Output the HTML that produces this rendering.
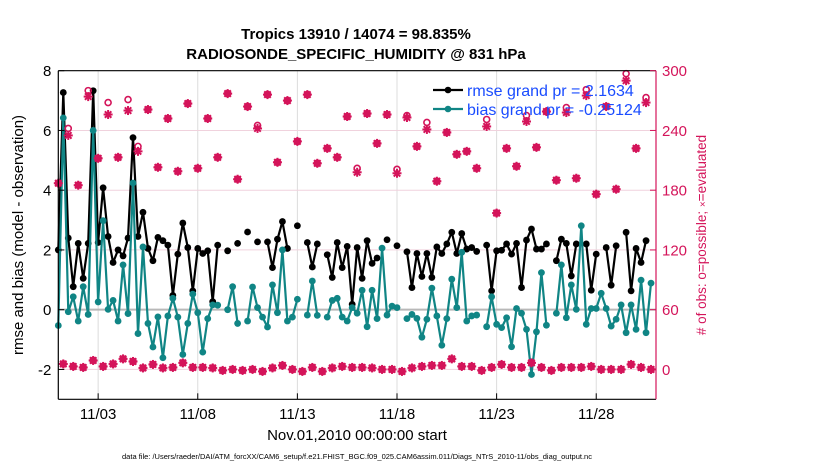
<!DOCTYPE html>
<html><head><meta charset="utf-8"><style>
html,body{margin:0;padding:0;background:#fff;}
svg{display:block;font-family:"Liberation Sans",Arial,sans-serif;}
</style></head><body>
<svg id="chart" width="830" height="470" viewBox="0 0 830 470" xmlns="http://www.w3.org/2000/svg">
<text x="356" y="39" text-anchor="middle" font-size="15" font-weight="bold">Tropics 13910 / 14074 = 98.835%</text>
<text x="356" y="59" text-anchor="middle" font-size="15" font-weight="bold">RADIOSONDE_SPECIFIC_HUMIDITY @ 831 hPa</text>
<g id="grid"></g>
<g id="series"></g>
<g id="axes"></g>
<text transform="translate(23,235) rotate(-90)" text-anchor="middle" font-size="15">rmse and bias (model - observation)</text>
<text transform="translate(706,235) rotate(-90)" text-anchor="middle" font-size="13.5" fill="#d4145a">#  of obs: o=possible; <tspan font-size="10">×</tspan>=evaluated</text>
<text x="357" y="440" text-anchor="middle" font-size="15">Nov.01,2010 00:00:00 start</text>
<text x="357" y="459" text-anchor="middle" font-size="7.5">data file: /Users/raeder/DAI/ATM_forcXX/CAM6_setup/f.e21.FHIST_BGC.f09_025.CAM6assim.011/Diags_NTrS_2010-11/obs_diag_output.nc</text>
</svg>
<script>
const rmse=[2.0,7.27,2.4,0.77,2.22,1.05,2.22,7.33,2.25,4.08,2.45,1.58,2.0,1.8,2.4,5.76,2.45,3.26,2.05,1.64,2.42,2.31,2.16,0.48,1.86,2.9,2.08,0.63,2.05,1.88,1.97,0.27,2.16,null,1.97,null,2.22,null,2.6,
null,2.27,null,2.27,1.41,2.36,2.95,2.05,null,2.81,null,2.25,1.43,2.2,null,1.84,1.08,2.25,1.41,2.12,0.18,2.08,1.05,2.31,1.55,1.73,null,2.34,null,2.14,null,1.94,0.74,1.88,1.11,1.88,1.08,2.1,1.88,2.2,
2.59,1.88,2.55,2.03,2.08,1.95,null,2.16,0.63,1.97,1.99,2.2,1.86,2.22,0.74,2.33,2.7,2.03,2.03,2.2,null,1.64,2.36,2.22,1.13,2.2,null,2.2,0.65,1.86,null,2.08,0.82,2.14,null,2.59,0.63,2.05,1.58,2.31,null];
const bias=[-0.53,6.42,-0.07,0.43,-0.38,0.77,-0.16,6.0,0.26,2.98,0.01,0.31,-0.38,1.5,-0.13,4.24,-0.8,2.1,-0.46,-1.25,-0.24,-1.61,-0.21,0.38,-0.25,-1.5,-0.46,0.52,-0.1,-1.42,-0.3,0.16,0.15,null,0.0,0.77,-0.46,null,-0.38,
0.76,0.07,-0.25,-0.58,0.83,-0.1,2.0,-0.38,-0.25,0.35,null,-0.18,0.96,-0.19,null,-0.25,0.31,0.38,-0.25,-0.38,0.07,-0.12,0.65,-0.57,0.65,-0.3,2.06,-0.18,0.12,0.07,null,-0.3,-0.16,-0.29,-0.92,-0.32,0.72,-0.21,-1.19,-0.3,
1.02,0.07,1.92,-0.38,-0.21,-0.18,null,-0.57,0.43,-0.49,-0.6,-0.27,-1.24,0.04,-0.12,-0.66,-2.17,-0.74,1.24,-0.52,null,-0.12,1.5,-0.27,0.83,0.01,2.81,-0.49,0.04,0.04,0.55,0.04,-0.55,-0.32,0.16,-0.77,0.16,-0.66,0.99,-0.77,0.89];
// counts at even steps (00Z/12Z) and odd steps (06Z/18Z)
const usedEven=[187,235,185,274,212,256,213,260,219,261,203,252,199,267,202,252,213,277,191,264,
242,276,208,270,229,276,207,222,213,254,198,257,227,256,197,253,224,241,189,238,
216,219,202,244,157,222,204,249,223,259,190,258,192,275,176,264,181,290,222,268];
const possEven=[187,242,185,280,212,268,213,271,224,261,203,252,199,267,202,252,213,277,191,264,
245,276,208,270,229,276,207,222,213,254,202,257,227,256,201,255,224,248,189,238,
216,219,202,251,157,222,204,255,223,259,190,263,192,281,176,264,181,297,222,273];
const usedOdd=[5.5,3,2,9,3,5.5,10.6,8,1.5,5,1.5,2,6.6,2,2,1.5,-1,0,-1,
0,-2,1.5,4,0,-2,2,-2,1.5,3,2,2,1.5,0,0,-2,1.5,3,4,4,10.6,3,3,-1,2,5,2,2,6.6,2,-1,2,2,2,3,0,0,0,5,2,0];
const possOdd=usedOdd.slice();
const leftTicks=[-2,0,2,4,6,8];
const rightTicks=[0,60,120,180,240,300];
const xTickDays=[2,7,12,17,22,27];
const xTickLabels=["11/03","11/08","11/13","11/18","11/23","11/28"];
const legendLabels=["rmse grand pr = 2.1634","bias grand pr = -0.25124"];

const NS="http://www.w3.org/2000/svg";
const L=58.3,R=656,T=70.7,B=399.3;
const X=d=>L+(d/30)*(R-L);
const Y=v=>B-(v+3)/11*(B-T);
const Y2=v=>B-(v+30)/330*(B-T);
const PINK="#d4145a",TEAL="#108585";
function mk(tag,attrs,parent){const e=document.createElementNS(NS,tag);for(const k in attrs)e.setAttribute(k,attrs[k]);parent.appendChild(e);return e;}
const grid=document.getElementById('grid'),ser=document.getElementById('series'),ax=document.getElementById('axes');

xTickDays.forEach((d,i)=>{const g=mk('line',{x1:X(d),x2:X(d),y1:T,y2:B,stroke:'#dcdcdc','stroke-width':1},grid);

});
rightTicks.forEach(v=>{if(v===300||v===60)return;const g=mk('line',{x1:L,x2:R,y1:Y2(v),y2:Y2(v),stroke:'#f0d2dd','stroke-width':1},grid);

});
const zl=mk('line',{x1:L,x2:R,y1:Y(0),y2:Y(0),stroke:'#b8b8b8','stroke-width':2},grid);



function drawLine(arr,color,name){
  let d='',pen=false;
  arr.forEach((v,i)=>{if(v===null){pen=false;return;}d+=(pen?'L':'M')+X(i*0.25).toFixed(1)+' '+Y(v).toFixed(1);pen=true;});
  const p=mk('path',{d:d,fill:'none',stroke:color,'stroke-width':2.2,'stroke-linejoin':'round'},ser);
  
  
  arr.forEach((v,i)=>{if(v===null)return;const c=mk('circle',{cx:X(i*0.25),cy:Y(v),r:3.4,fill:color},ser);
    
    });
}
drawLine(rmse,'#000','rmse');
drawLine(bias,TEAL,'bias');

// legend
const lg=mk('g',{},ax);


[['#000',90],[TEAL,109]].forEach((c,i)=>{
  const ln=mk('line',{x1:433,x2:463,y1:c[1],y2:c[1],stroke:c[0],'stroke-width':2.2},lg);
  
  
  mk('circle',{cx:448,cy:c[1],r:3.3,fill:c[0]},lg);
  const t=mk('text',{x:467,y:c[1]+6,'font-size':16,fill:'#1a4cff'},lg);t.textContent=legendLabels[i];
  
  
});

function asterisk(cx,cy,name){
  const g=mk('g',{stroke:PINK,'stroke-width':2,fill:'none'},ser);
  
  
  const s=4.5;
  mk('circle',{cx:cx,cy:cy,r:2.2,fill:PINK,stroke:'none'},g);
  mk('line',{x1:cx-s,x2:cx+s,y1:cy,y2:cy},g);mk('line',{x1:cx,x2:cx,y1:cy-s,y2:cy+s},g);
  mk('line',{x1:cx-s*0.72,x2:cx+s*0.72,y1:cy-s*0.72,y2:cy+s*0.72},g);mk('line',{x1:cx-s*0.72,x2:cx+s*0.72,y1:cy+s*0.72,y2:cy-s*0.72},g);
}
function drawCounts(poss,used,offset,name){
  poss.forEach((v,k)=>{const c=mk('circle',{cx:X((2*k+offset)*0.25),cy:Y2(v),r:3,fill:'none',stroke:PINK,'stroke-width':1.6},ser);
    
    });
  used.forEach((v,k)=>asterisk(X((2*k+offset)*0.25),Y2(v),name+'-evaluated'));
}
drawCounts(possEven,usedEven,0,'obs-count-even');
drawCounts(possOdd,usedOdd,1,'obs-count-odd');

// axes frame
const fr=[[L,T,R,T,'#000'],[L,T,L,B,'#000'],[L,B,R,B,'#000'],[R,T,R,B,PINK]];
fr.forEach(f=>{const l=mk('line',{x1:f[0],y1:f[1],x2:f[2],y2:f[3],stroke:f[4],'stroke-width':1.2},ax);
  
  });
leftTicks.forEach(v=>{mk('line',{x1:L,x2:L+6,y1:Y(v),y2:Y(v),stroke:'#000'},ax);
  const t=mk('text',{x:L-7,y:Y(v)+5.5,'text-anchor':'end','font-size':15},ax);t.textContent=v;
  
  });
rightTicks.forEach(v=>{mk('line',{x1:R-6,x2:R,y1:Y2(v),y2:Y2(v),stroke:PINK},ax);
  const t=mk('text',{x:R+6,y:Y2(v)+5.5,'font-size':15,fill:PINK},ax);t.textContent=v;
  
  });
xTickDays.forEach((d,i)=>{mk('line',{x1:X(d),x2:X(d),y1:B,y2:B-6,stroke:'#000'},ax);
  const t=mk('text',{x:X(d),y:419,'text-anchor':'middle','font-size':15},ax);t.textContent=xTickLabels[i];
  
  });
</script>
</body></html>
